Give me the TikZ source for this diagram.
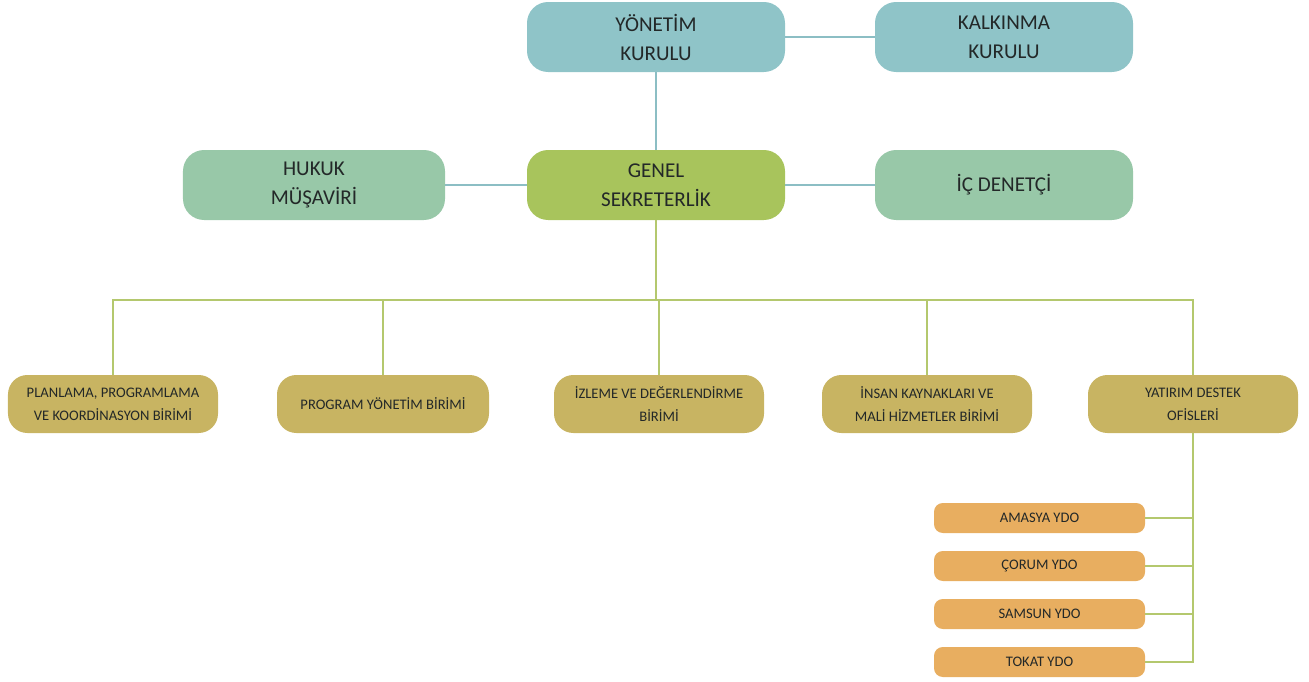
\documentclass[tikz,border=0pt]{standalone}
\usepackage{fontspec}
\setmainfont{Carlito}
\usepackage{tikz}
\usetikzlibrary{positioning}
\usepackage{xcolor}

\definecolor{kurulblue}{RGB}{143,196,200}
\definecolor{birimgreen}{RGB}{152,200,168}
\definecolor{genelgreen}{RGB}{168,196,92}
\definecolor{birimkhaki}{RGB}{200,180,98}
\definecolor{ydoorange}{RGB}{232,174,96}
\definecolor{linkblue}{RGB}{140,190,196}
\definecolor{linkgreen}{RGB}{180,200,110}
\definecolor{boxtext}{RGB}{35,40,40}

\tikzset{
  topbox/.style={inner sep=0pt, rounded corners=12pt, minimum width=5.16cm, minimum height=1.4cm, align=center, text=boxtext, font=\fontsize{12}{16.5}\selectfont},
  unitbox/.style={inner sep=0pt, rounded corners=11pt, fill=birimkhaki, minimum width=4.2cm, minimum height=1.16cm, align=center, text=boxtext, font=\fontsize{8.3}{13}\selectfont},
  ydobox/.style={inner sep=0pt, rounded corners=5pt, fill=ydoorange, minimum width=4.22cm, minimum height=0.6cm, text=boxtext, font=\fontsize{8.3}{10}\selectfont},
  toplink/.style={linkblue, line width=1.5pt},
  buslink/.style={linkgreen, line width=1.5pt},
}

\begin{document}
\begin{tikzpicture}[x=0.2mm, y=-0.2mm]
		\useasboundingbox (0,0) rectangle (1309,682);

		% ust kurullar
		\draw (656,37) node[topbox, fill=kurulblue] (yk) {Y\"ONET\.IM\\KURULU}
		(1004,37) node[topbox, fill=kurulblue] (kk) {KALKINMA\\KURULU}
		(314,185) node[topbox, fill=birimgreen, minimum width=5.24cm] (hm) {HUKUK\\M\"U\c{S}AV\.IR\.I}
		(656,185) node[topbox, fill=genelgreen] (gs) {GENEL\\SEKRETERL\.IK}
		(1004,185) node[topbox, fill=birimgreen] (id) {\.I\c{C} DENET\c{C}\.I};

		% birimler
		\draw (113,404) node[unitbox] (pp) {PLANLAMA, PROGRAMLAMA\\VE KOORD\.INASYON B\.IR\.IM\.I}
		(383,404) node[unitbox, minimum width=4.24cm] (py) {PROGRAM Y\"ONET\.IM B\.IR\.IM\.I}
		(659,404) node[unitbox] (ie) {\.IZLEME VE DE\u{G}ERLEND\.IRME\\B\.IR\.IM\.I}
		(927,404) node[unitbox] (ik) {\.INSAN KAYNAKLARI VE\\MAL\.I H\.IZMETLER B\.IR\.IM\.I}
		(1193,404) node[unitbox] (yd) {YATIRIM DESTEK\\OF\.ISLER\.I};

		% ydo ofisleri
		\draw (1039.5,518) node[ydobox] (amasya) {AMASYA YDO}
		(1039.5,566) node[ydobox] (corum) {\c{C}ORUM YDO}
		(1039.5,614) node[ydobox] (samsun) {SAMSUN YDO}
		(1039.5,662) node[ydobox] (tokat) {TOKAT YDO};

		\coordinate (bus) at (656,300);

		\draw[toplink] (yk) -- (kk);
		\draw[toplink] (yk) -- (gs);
		\draw[toplink] (gs) -- (hm);
		\draw[toplink] (gs) -- (id);

		\draw[buslink] (gs) -- (bus);
		\draw[buslink] (bus) -| (pp);
		\draw[buslink] (bus) -| (py);
		\draw[buslink] (bus) -| (ie);
		\draw[buslink] (bus) -| (ik);
		\draw[buslink] (bus) -| (yd);

		\draw[buslink] (yd) |- (tokat);
		\draw[buslink] (yd) |- (samsun);
		\draw[buslink] (yd) |- (corum);
		\draw[buslink] (yd) |- (amasya);
	\end{tikzpicture}
\end{document}
